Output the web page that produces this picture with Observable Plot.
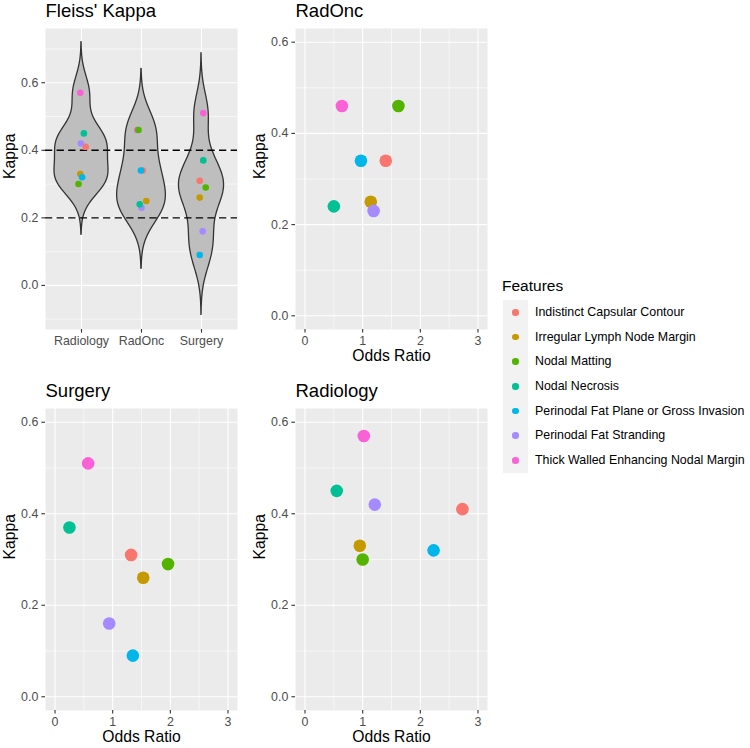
<!DOCTYPE html>
<html>
<head>
<meta charset="utf-8">
<script src="https://cdn.jsdelivr.net/npm/d3@7"></script>
<script src="https://cdn.jsdelivr.net/npm/@observablehq/plot@0.6"></script>
<style>
  html, body { margin: 0; padding: 0; background: #fff; }
  body { font-family: "Liberation Sans", Arial, Helvetica, sans-serif; }
  #root { position: relative; width: 750px; height: 748px; overflow: hidden; }
  .panel { position: absolute; }
  .panel svg { overflow: visible; }
  #legend { position: absolute; left: 502px; top: 278px; }
  #legend .ttl { font-size: 15.5px; color: #000; height: 22px; line-height: 16px; }
  #legend .keys { position: absolute; left: 1px; top: 22px; width: 24.7px; background: #F2F2F2; }
  #legend .row { position: relative; height: 24.7px; }
  #legend .dot { position: absolute; left: 9.05px; top: 9.05px; width: 6.6px; height: 6.6px; border-radius: 50%; }
  #legend .lab { position: absolute; left: 33px; top: 22px; font-size: 12.4px; color: #000; white-space: nowrap; }
  #legend .lab div { height: 24.7px; line-height: 24.7px; }
</style>
</head>
<body>
<div id="root"></div>
<script>
// ---------------- data ----------------
const features = [
  "Indistinct Capsular Contour",
  "Irregular Lymph Node Margin",
  "Nodal Matting",
  "Nodal Necrosis",
  "Perinodal Fat Plane or Gross Invasion",
  "Perinodal Fat Stranding",
  "Thick Walled Enhancing Nodal Margin"
];
const featureColors = ["#F8766D", "#C49A00", "#53B400", "#00C094", "#00B6EB", "#A58AFF", "#FB61D7"];
const groups = ["Radiology", "RadOnc", "Surgery"];

const kappaRadiology = [0.41, 0.33, 0.30, 0.45, 0.32, 0.42, 0.57];
const oddsRadiology  = [2.73, 0.95, 1.00, 0.55, 2.23, 1.21, 1.02];
const kappaRadOnc    = [0.34, 0.25, 0.46, 0.24, 0.34, 0.23, 0.46];
const oddsRadOnc     = [1.40, 1.14, 1.62, 0.50, 0.97, 1.19, 0.64];
const kappaSurgery   = [0.31, 0.26, 0.29, 0.37, 0.09, 0.16, 0.51];
const oddsSurgery    = [1.32, 1.53, 1.96, 0.25, 1.35, 0.94, 0.575];

// horizontal jitter of the points in the violin panel
const jitterRadiology = [0.07, -0.02, -0.05, 0.04, 0.01, -0.01, -0.02];
const jitterRadOnc    = [0.02, 0.08, -0.05, -0.03, -0.01, 0.00, -0.07];
const jitterSurgery   = [-0.03, -0.03, 0.07, 0.03, -0.03, 0.02, 0.03];

// drawing order of features (which point sits on top)
const drawOrder = [0, 1, 6, 5, 3, 2, 4];

const kappaTicks = [0, 0.2, 0.4, 0.6];
const kappaMinorScatter = [0.1, 0.3, 0.5];
const kappaMinorViolin = [-0.1, 0.1, 0.3, 0.5, 0.7];
const oddsTicks = [0, 1, 2, 3];
const oddsMinor = [0.5, 1.5, 2.5];
const refLines = [0.2, 0.4];

// ---------------- tables ----------------
const kappaBy = {Radiology: kappaRadiology, RadOnc: kappaRadOnc, Surgery: kappaSurgery};
const oddsBy = {Radiology: oddsRadiology, RadOnc: oddsRadOnc, Surgery: oddsSurgery};
const jitterBy = {Radiology: jitterRadiology, RadOnc: jitterRadOnc, Surgery: jitterSurgery};

function rowsFor(g) {
  return drawOrder.map(i => ({
    feature: features[i], group: g, gi: groups.indexOf(g) + 1,
    kappa: kappaBy[g][i], odds: oddsBy[g][i], jitter: jitterBy[g][i]
  }));
}
const allRows = groups.flatMap(rowsFor);

// violin densities (gaussian KDE, bw.nrd0, 3 bw tails, area scaling, width 0.9)
function nrd0(v) {
  const s = d3.deviation(v);
  const iqr = d3.quantile(v, 0.75) - d3.quantile(v, 0.25);
  let lo = Math.min(s, iqr / 1.34);
  if (!(lo > 0)) lo = s || 1;
  return 0.9 * lo * Math.pow(v.length, -0.2);
}
let violin = [];
for (const g of groups) {
  const v = kappaBy[g];
  const bw = nrd0(v);
  const lo = d3.min(v) - 3 * bw, hi = d3.max(v) + 3 * bw;
  const n = 512;
  for (let k = 0; k < n; k++) {
    const y = lo + (hi - lo) * k / (n - 1);
    const dens = d3.sum(v, x => Math.exp(-0.5 * ((y - x) / bw) ** 2)) / (v.length * bw * Math.sqrt(2 * Math.PI));
    violin.push({group: g, gi: groups.indexOf(g) + 1, y, dens});
  }
}
const maxDens = d3.max(violin, d => d.dens);
violin = violin.map(d => ({...d, half: d.dens / maxDens * 0.45}));

// ---------------- styling ----------------
const fontFamily = "'Liberation Sans', Arial, Helvetica, sans-serif";
const colorScale = {domain: features, range: featureColors};

function panel({left, top, width, height, margin, xDomain, yDomain, xTicks, xMinor, xTickFormat,
                yTicks, yMinor, title, xTitle, marks}) {
  const plot = Plot.plot({
    width, height,
    marginTop: margin[0], marginRight: margin[1], marginBottom: margin[2], marginLeft: margin[3],
    style: {fontFamily, background: "transparent", overflow: "visible"},
    x: {domain: xDomain}, y: {domain: yDomain}, color: colorScale,
    marks: [
      Plot.frame({fill: "#EBEBEB", stroke: "none"}),
      Plot.ruleY(yMinor, {y: d => d, stroke: "white", strokeWidth: 0.55}),
      xMinor.length ? Plot.ruleX(xMinor, {x: d => d, stroke: "white", strokeWidth: 0.55}) : null,
      Plot.ruleY(yTicks, {y: d => d, stroke: "white", strokeWidth: 1.1}),
      Plot.ruleX(xTicks, {x: d => d, stroke: "white", strokeWidth: 1.1}),
      ...marks,
      Plot.axisY({ticks: yTicks, tickFormat: d3.format(".1f"), tickSize: 3.6, tickPadding: 3.6,
                  fontSize: 12.4, stroke: "#333333", fill: "#4D4D4D", strokeWidth: 1.1, label: null}),
      Plot.axisX({ticks: xTicks, tickFormat: xTickFormat, tickSize: 3.6, tickPadding: 3,
                  fontSize: 12.4, stroke: "#333333", fill: "#4D4D4D", strokeWidth: 1.1, label: null}),
      Plot.text([title], {text: d => d, frameAnchor: "top-left", dy: -11.3, lineAnchor: "bottom",
                          textAnchor: "start", fontSize: 18.5, fill: "black"}),
      Plot.text(["Kappa"], {text: d => d, frameAnchor: "left", dx: -35.5, rotate: -90,
                            fontSize: 15.7, fill: "black"}),
      xTitle ? Plot.text([xTitle], {text: d => d, frameAnchor: "bottom", dy: 31,
                                    fontSize: 15.7, fill: "black"}) : null
    ]
  });
  const div = document.createElement("div");
  div.className = "panel";
  div.style.left = left + "px";
  div.style.top = top + "px";
  div.appendChild(plot);
  document.getElementById("root").appendChild(div);
}

// Fleiss' Kappa violin panel
panel({
  left: 0, top: 0, width: 250, height: 365, margin: [28, 13, 36, 45],
  xDomain: [0.4, 3.6], yDomain: [-0.1305, 0.7605],
  xTicks: groups.map((g, i) => i + 1), xMinor: [], xTickFormat: i => groups[i - 1],
  yTicks: kappaTicks, yMinor: kappaMinorViolin, title: "Fleiss' Kappa", xTitle: null,
  marks: [
    Plot.areaX(violin, {y: "y", x1: d => d.gi - d.half, x2: d => d.gi + d.half, z: "group",
                        fill: "#BEBEBE", stroke: "#333333", strokeWidth: 1.3}),
    Plot.ruleY(refLines, {y: d => d, stroke: "black", strokeWidth: 1.4, strokeDasharray: "7.3,4.3"}),
    Plot.dot(allRows, {x: d => d.gi + d.jitter, y: "kappa", fill: "feature", r: 3.3})
  ]
});

function scatter(g, left, top, height, margin) {
  panel({
    left, top, width: 250, height, margin,
    xDomain: [-0.165, 3.165], yDomain: [-0.03, 0.63],
    xTicks: oddsTicks, xMinor: oddsMinor, xTickFormat: d3.format("d"),
    yTicks: kappaTicks, yMinor: kappaMinorScatter, title: g, xTitle: "Odds Ratio",
    marks: [Plot.dot(rowsFor(g), {x: "odds", y: "kappa", fill: "feature", r: 6.3})]
  });
}
scatter("RadOnc", 250, 0, 365, [28, 13, 36, 45]);
scatter("Surgery", 0, 365, 383, [43, 13, 38, 45]);
scatter("Radiology", 250, 365, 383, [43, 13, 38, 45]);

// legend
const lg = document.createElement("div");
lg.id = "legend";
lg.innerHTML = `<div class="ttl">Features</div>` +
  `<div class="keys">${features.map((f, i) => `<div class="row"><div class="dot" style="background:${featureColors[i]}"></div></div>`).join("")}</div>` +
  `<div class="lab">${features.map(f => `<div>${f}</div>`).join("")}</div>`;
document.getElementById("root").appendChild(lg);
</script>
</body>
</html>
